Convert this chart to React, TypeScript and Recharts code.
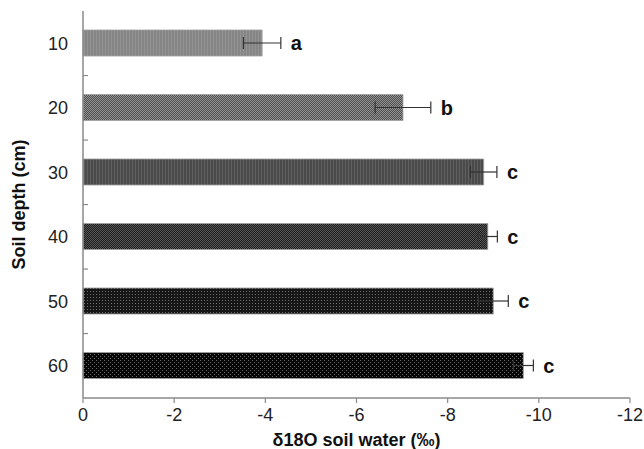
import React from 'react';
import { BarChart, Bar, XAxis, YAxis, ErrorBar, Cell, LabelList } from 'recharts';

const depths = ['10', '20', '30', '40', '50', '60'];
const delta18O = [-3.93, -7.02, -8.79, -8.88, -9.0, -9.66];
const errors = [0.41, 0.61, 0.29, 0.21, 0.33, 0.22];
const letters = ['a', 'b', 'c', 'c', 'c', 'c'];
const xTicks = [0, -2, -4, -6, -8, -10, -12];

const data = depths.map((d, i) => ({ depth: d, value: delta18O[i], err: errors[i], letter: letters[i] }));

const FONT = '"Liberation Sans", Arial, sans-serif';
const AXIS = '#8a8a8a';

const patternIds = ['p0', 'p1', 'p2', 'p3', 'p4', 'p5'];

const Patterns = () => (
  <svg width={0} height={0} style={{ position: 'absolute' }}>
    <defs>
      <pattern id="p0" width={3} height={3} patternUnits="userSpaceOnUse">
        <rect width={3} height={3} fill="#858585" />
        <rect width={1} height={3} fill="#939393" />
      </pattern>
      <pattern id="p1" width={2} height={2} patternUnits="userSpaceOnUse">
        <rect width={2} height={2} fill="#4c4c4c" />
        <rect width={1} height={1} fill="#969696" />
        <rect x={1} y={1} width={1} height={1} fill="#969696" />
      </pattern>
      <pattern id="p2" width={3} height={3} patternUnits="userSpaceOnUse">
        <rect width={3} height={3} fill="#4a4a4a" />
        <rect width={1} height={3} fill="#606060" />
      </pattern>
      <pattern id="p3" width={2} height={2} patternUnits="userSpaceOnUse">
        <rect width={2} height={2} fill="#1c1c1c" />
        <rect width={1} height={1} fill="#585858" />
        <rect x={1} y={1} width={1} height={1} fill="#585858" />
      </pattern>
      <pattern id="p4" width={3} height={3} patternUnits="userSpaceOnUse">
        <rect width={3} height={3} fill="#161616" />
        <rect width={1} height={1} fill="#6a6a6a" />
      </pattern>
      <pattern id="p5" width={4} height={4} patternUnits="userSpaceOnUse">
        <rect width={4} height={4} fill="#060606" />
        <rect width={1} height={1} fill="#6a6a6a" />
        <rect x={2} y={2} width={1} height={1} fill="#6a6a6a" />
      </pattern>
    </defs>
  </svg>
);

const YTick = (props: any) => {
  const { x, y, payload, index } = props;
  return (
    <g>
      <text x={x - 15} y={y} dy="0.36em" textAnchor="end" fontSize={18} fill="#222" fontFamily={FONT}>
        {payload.value}
      </text>
      {index < depths.length - 1 && (
        <line x1={x} x2={x + 5} y1={y + 32.3} y2={y + 32.3} stroke={AXIS} strokeWidth={1.2} />
      )}
    </g>
  );
};

const LetterLabel = (props: any) => {
  const { x, y, width, height, index } = props;
  const w = Number(width);
  const left = Math.min(Number(x), Number(x) + w);
  const right = Math.max(Number(x), Number(x) + w);
  const px = (right - left) / Math.abs(delta18O[index]);
  const lx = right + errors[index] * px + 10;
  const cy = Number(y) + Number(height) / 2;
  return (
    <text x={lx} y={cy} dy="0.36em" fontSize={20} fontWeight="bold" fill="#111" fontFamily={FONT}>
      {letters[index]}
    </text>
  );
};

export default function App() {
  return (
    <div style={{ position: 'absolute', left: 0, top: 0 }}>
      <Patterns />
      <BarChart
        width={644}
        height={449}
        data={data}
        layout="vertical"
        margin={{ top: 11, right: 14, bottom: 0, left: 0 }}
        barCategoryGap={0}
      >
        <XAxis
          xAxisId="b"
          type="number"
          domain={[-12, 0]}
          reversed
          ticks={xTicks}
          interval={0}
          height={51}
          tickSize={5}
          tickMargin={5}
          axisLine={{ stroke: AXIS, strokeWidth: 1.5 }}
          tickLine={{ stroke: AXIS, strokeWidth: 1.2 }}
          tick={{ fontSize: 18, fill: '#222', fontFamily: FONT }}
          label={{
            value: 'δ18O soil water (‰)',
            position: 'insideBottom',
            offset: 3,
            style: { fontSize: 18, fontWeight: 'bold', fill: '#111', fontFamily: FONT },
          }}
        />
        <XAxis
          xAxisId="t"
          orientation="top"
          type="number"
          domain={[-12, 0]}
          reversed
          height={0}
          tick={false}
          tickLine={false}
          axisLine={{ stroke: '#9a9a9a', strokeWidth: 2 }}
        />
        <YAxis
          yAxisId="l"
          type="category"
          dataKey="depth"
          width={83}
          tickSize={0}
          tickMargin={0}
          axisLine={{ stroke: AXIS, strokeWidth: 1.5 }}
          tickLine={false}
          tick={<YTick />}
          label={{
            value: 'Soil depth (cm)',
            angle: -90,
            position: 'insideLeft',
            offset: 19,
            style: { textAnchor: 'middle', fontSize: 18, fontWeight: 'bold', fill: '#111', fontFamily: FONT },
          }}
        />
        <YAxis
          yAxisId="r"
          orientation="right"
          type="category"
          dataKey="depth"
          width={0}
          tick={false}
          tickLine={false}
          axisLine={{ stroke: '#9a9a9a', strokeWidth: 2 }}
        />
        <Bar
          dataKey="value"
          xAxisId="b"
          yAxisId="l"
          barSize={26}
          stroke="#a0a0a0"
          strokeWidth={0.8}
          isAnimationActive={false}
        >
          {data.map((d, i) => (
            <Cell key={d.depth} fill={`url(#${patternIds[i]})`} />
          ))}
          <ErrorBar dataKey="err" direction="x" width={6} stroke="#333" strokeWidth={1.2} />
          <LabelList dataKey="letter" content={<LetterLabel />} />
        </Bar>
      </BarChart>
    </div>
  );
}
